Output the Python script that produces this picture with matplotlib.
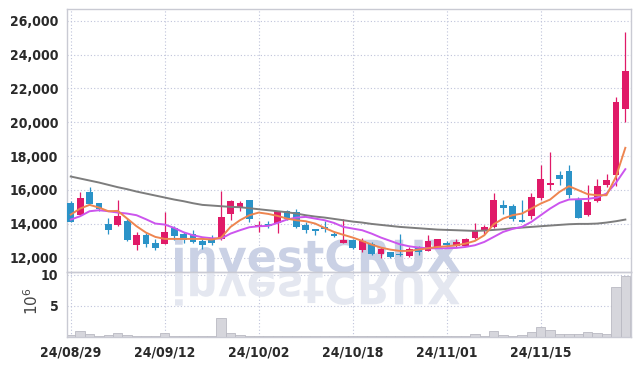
import matplotlib
matplotlib.use('Agg')
import matplotlib.pyplot as plt
import numpy as np
from matplotlib.textpath import TextPath
from matplotlib.patches import PathPatch
from matplotlib.font_manager import FontProperties
from matplotlib.transforms import Affine2D, IdentityTransform
from matplotlib.ticker import FuncFormatter

# ---- data ----
opens = [15250, 14530, 15850, 15200, 14000, 13930, 14150, 12760, 13320, 12850,
         12810, 13780, 13380, 13370, 12990, 13100, 13130, 14580, 14960, 15390,
         13800, 14000, 14060, 14740, 14680, 13900, 13680, 13810, 13410, 12870,
         13040, 12480, 12830, 12240, 12310, 12200, 12080, 12590, 12420, 12610,
         12850, 12690, 12700, 13150, 13570, 13800, 15100, 15040, 14210, 14450,
         15530, 16320, 16870, 17110, 15430, 14490, 15350, 16300, 16890, 20760]
highs = [15330, 15850, 16200, 15250, 14370, 15430, 14370, 13520, 13460, 13100,
         14710, 13850, 13520, 13620, 13120, 13340, 15960, 15400, 15370, 15400,
         14150, 14170, 14750, 14800, 14860, 14100, 13700, 14160, 13520, 14300,
         13130, 13150, 12950, 12630, 12340, 13400, 12630, 12670, 13360, 13100,
         13000, 13130, 13160, 14060, 13910, 15790, 15390, 15160, 15430, 15830,
         17460, 18250, 17110, 17500, 15590, 16320, 16620, 16970, 21470, 25350]
lows = [14100, 14500, 15150, 14750, 13400, 13880, 12990, 12470, 12630, 12470,
        12800, 13060, 12870, 12850, 12510, 12750, 13050, 14250, 14760, 14110,
        13540, 13780, 13480, 14200, 13760, 13450, 13360, 13490, 13220, 12870,
        12500, 12330, 12160, 12000, 12000, 12080, 12040, 12140, 12400, 12540,
        12620, 12630, 12670, 13080, 13420, 13730, 14600, 14170, 14110, 14310,
        15390, 16020, 16320, 15550, 14350, 14480, 15290, 16200, 16240, 20030]
closes = [14100, 15500, 15180, 14850, 13630, 14450, 13030, 13320, 12810, 12570,
          13490, 13290, 13070, 12930, 12770, 12890, 14390, 15350, 15220, 14280,
          13950, 13880, 14740, 14270, 13820, 13620, 13590, 13690, 13300, 13050,
          12580, 12990, 12220, 12510, 12030, 12130, 12510, 12360, 12990, 13100,
          12760, 12920, 13090, 13560, 13800, 15390, 14960, 14310, 14110, 15570,
          16640, 16420, 16650, 15710, 14350, 15280, 16220, 16580, 21190, 23030]
volumes = [0.28, 0.95, 0.45, 0.12, 0.30, 0.62, 0.30, 0.10, 0.10, 0.05,
           0.62, 0.15, 0.03, 0.12, 0.03, 0.03, 3.05, 0.62, 0.30, 0.15,
           0.10, 0.03, 0.10, 0.03, 0.12, 0.05, 0.03, 0.10, 0.03, 0.12,
           0.03, 0.03, 0.03, 0.03, 0.03, 0.10, 0.03, 0.03, 0.10, 0.03,
           0.03, 0.03, 0.05, 0.45, 0.10, 0.95, 0.28, 0.12, 0.28, 0.78,
           1.60, 1.10, 0.45, 0.45, 0.45, 0.78, 0.62, 0.45, 8.07, 9.73]
ma5 = [14545, 14900, 15117, 14960, 14742, 14762, 14308, 13855, 13480, 13224,
       13106, 13106, 13106, 13106, 13106, 13066, 13185, 13816, 14210, 14506,
       14663, 14584, 14466, 14308, 14210, 14150, 14013, 13757, 13520, 13350,
       13185, 12988, 12770, 12593, 12474, 12396, 12396, 12474, 12553, 12632,
       12671, 12731, 12830, 12988, 13323, 13974, 14308, 14506, 14604, 14900,
       15196, 15432, 15886, 16221, 15985, 15748, 15689, 15689, 16774, 18489]
ma10 = [14249, 14447, 14742, 14801, 14742, 14663, 14604, 14506, 14269, 14013,
        13954, 13757, 13500, 13323, 13204, 13145, 13126, 13421, 13619, 13796,
        13855, 13875, 14052, 14249, 14367, 14407, 14308, 14210, 14052, 13816,
        13717, 13619, 13421, 13185, 12988, 12790, 12671, 12593, 12553, 12553,
        12553, 12573, 12632, 12731, 12928, 13224, 13520, 13697, 13816, 14111,
        14506, 14900, 15235, 15433, 15452, 15472, 15551, 15787, 16419, 17227]
ma60 = [16793, 16675, 16556, 16438, 16300, 16162, 16044, 15905, 15787, 15669,
        15551, 15433, 15334, 15215, 15117, 15078, 15038, 14999, 14980, 14920,
        14860, 14801, 14742, 14683, 14604, 14506, 14427, 14368, 14289, 14210,
        14131, 14072, 13993, 13934, 13875, 13816, 13776, 13737, 13697, 13658,
        13638, 13619, 13599, 13579, 13600, 13638, 13678, 13737, 13776, 13816,
        13855, 13895, 13934, 13973, 13993, 13993, 14013, 14072, 14151, 14249]
tick_pos = [0, 10, 20, 30, 40, 50]
tick_labels = ['24/08/29', '24/09/12', '24/10/02', '24/10/18', '24/11/01', '24/11/15']
price_ticks = [12000, 14000, 16000, 18000, 20000, 22000, 24000, 26000]

up_c = '#e01a68'
down_c = '#2b93c8'
grid_c = '#bfc3da'
spine_c = '#c9cad3'
txt_c = '#2a2a2a'
tick_font = FontProperties(family='DejaVu Sans', stretch='condensed', weight='bold', size=10)

fig = plt.figure(figsize=(6.39, 3.66), dpi=100)
ax = fig.add_axes([0.1044, 0.2568, 0.8826, 0.7178])
axv = fig.add_axes([0.1044, 0.0801, 0.8826, 0.1768], sharex=ax)
for a in (ax, axv):
    a.set_facecolor('none')
    for s in a.spines.values():
        s.set_color(spine_c)
        s.set_linewidth(1.0)
    a.grid(True, color=grid_c, linestyle=(0, (1, 2)), linewidth=0.8)
    a.set_axisbelow(True)
    a.tick_params(length=0, colors=txt_c)

x = np.arange(len(closes))
o = np.array(opens); c = np.array(closes)
up = c >= o
cols = np.where(up, up_c, down_c)

# wicks + bodies
ax.vlines(x, lows, highs, colors=cols, linewidth=0.9, zorder=2)
body_h = np.maximum(np.abs(c - o), 40)
ax.bar(x, body_h, bottom=np.minimum(o, c), width=0.72, color=cols, zorder=3)

# moving averages
ax.plot(x, ma60, color='#7d7d7d', linewidth=1.4, zorder=4)
ax.plot(x, ma10, color='#cc55ee', linewidth=1.4, zorder=4)
ax.plot(x, ma5, color='#ee8550', linewidth=1.4, zorder=4)

ax.set_xlim(-0.43, 59.57)
ax.set_ylim(11150, 26675)
ax.set_yticks(price_ticks)
ax.yaxis.set_major_formatter(FuncFormatter(lambda v, p: f'{int(v):,}'))
ax.set_xticks(tick_pos)
ax.tick_params(axis='x', labelbottom=False)
ax.tick_params(axis='y', pad=6)

# volume
axv.bar(x, volumes, width=1.0, color='#d6d6dc', edgecolor='#b9b9c2', linewidth=0.6, zorder=2)
axv.set_ylim(0, 10.43)
axv.set_yticks([5, 10])
axv.set_xticks(tick_pos)
axv.set_xticklabels(tick_labels)
axv.tick_params(axis='y', pad=6)
axv.tick_params(axis='x', pad=6)
axv.set_ylabel(r'$10^6$', fontsize=11, color='#444444')
axv.yaxis.set_label_coords(-0.045, 0.55)

for lab in ax.get_yticklabels() + axv.get_yticklabels() + axv.get_xticklabels():
    lab.set_fontproperties(tick_font)

# watermark with reflection
fp = FontProperties(family='DejaVu Sans', weight='bold')
tp = TextPath((0, 0), 'investCRUX', size=1, prop=fp)
ext = tp.get_extents()
sc = 285 / ext.width
x0 = 175 - ext.x0 * sc
base = 366 - 272  # baseline in display pixels (origin bottom-left)
wm = PathPatch(tp, transform=Affine2D().scale(sc, sc).translate(x0, base) + IdentityTransform(),
               facecolor='#cad1e5', edgecolor='none', zorder=1)
ax.add_patch(wm)
wm.set_clip_on(False)
rf = PathPatch(tp, transform=Affine2D().scale(sc, -sc).translate(x0, base) + IdentityTransform(),
               facecolor='#e4e7f0', edgecolor='none', zorder=1)
axv.add_patch(rf)
rf.set_clip_path(axv.patch)

fig.savefig('out.png', dpi=100)
